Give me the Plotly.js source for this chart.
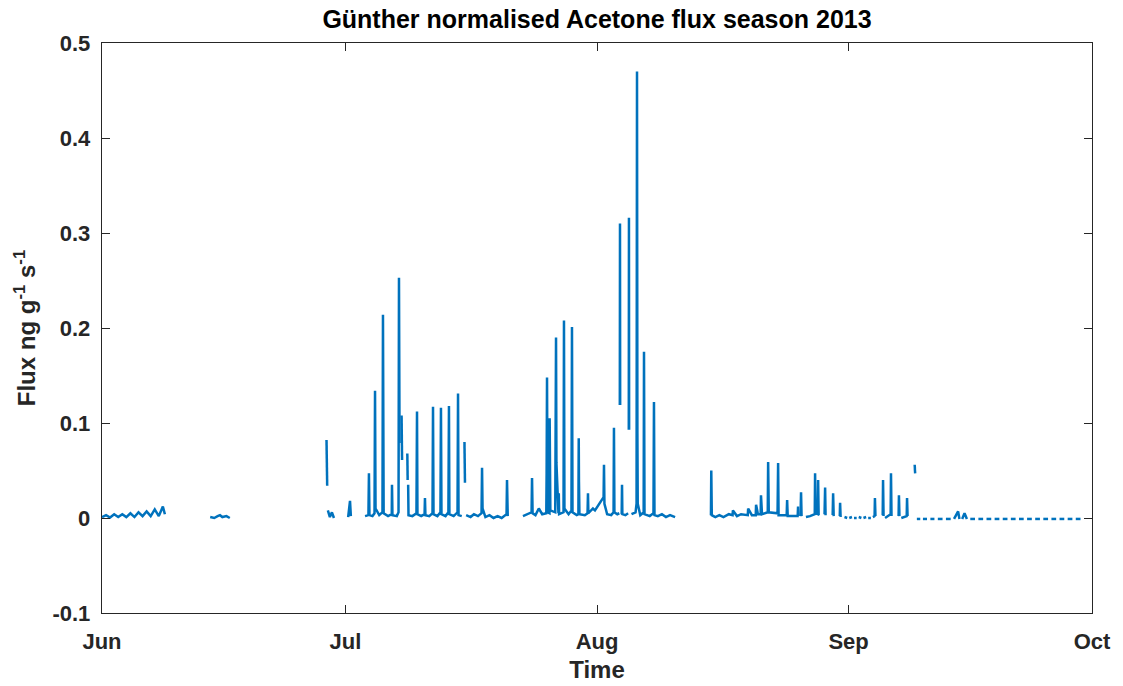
<!DOCTYPE html>
<html>
<head>
<meta charset="utf-8">
<script src="https://cdn.plot.ly/plotly-3.0.1.min.js"></script>
<style>
  html, body { margin: 0; padding: 0; background: #fff; }
  #chart { width: 1123px; height: 686px; }
</style>
</head>
<body>
<div id="chart"></div>
<script>
// Günther-normalised acetone flux, 2013 field season (ng g^-1 s^-1).
// null entries mark gaps in the record (no measurement).

const juneTime = [
  '2013-06-01 00:00','2013-06-01 12:00','2013-06-02 00:00','2013-06-02 12:00',
  '2013-06-03 00:00','2013-06-03 12:00','2013-06-04 00:00','2013-06-04 12:00',
  '2013-06-05 00:00','2013-06-05 12:00','2013-06-06 00:00','2013-06-06 12:00',
  '2013-06-07 00:00','2013-06-07 12:00','2013-06-08 00:00','2013-06-08 12:00',
  '2013-06-08 18:00','2013-06-09 00:00',
  '2013-06-14 08:00','2013-06-14 20:00','2013-06-15 06:00','2013-06-15 13:00',
  '2013-06-15 20:00','2013-06-16 08:00','2013-06-16 18:00','2013-06-17 00:00',
  '2013-06-28 16:00','2013-06-28 18:00','2013-06-28 19:00',
  '2013-06-28 20:00','2013-06-29 02:00','2013-06-29 08:00','2013-06-29 14:00','2013-06-29 16:00',
  '2013-07-01 08:00','2013-07-01 13:30','2013-07-01 16:00','2013-07-01 18:00'
];
const juneFlux = [
  0.001, 0.003, 0.0005, 0.004,
  0.001, 0.004, 0.001, 0.005,
  0.001, 0.006, 0.002, 0.007,
  0.002, 0.009, 0.002, 0.012,
  0.004, null,
  0.001, 0.000, 0.002, 0.003,
  0.001, 0.002, 0.000, null,
  0.082, 0.034, null,
  0.008, 0.001, 0.006, 0.000, null,
  0.001, 0.018, 0.002, null
];

const julyTime = [
  '2013-07-03 10:00','2013-07-03 20:00','2013-07-03 21:30','2013-07-03 23:00',
  '2013-07-04 08:00','2013-07-04 14:00','2013-07-04 15:30','2013-07-04 17:00',
  '2013-07-05 04:00','2013-07-05 13:30','2013-07-05 15:00','2013-07-05 15:45','2013-07-05 17:00',
  '2013-07-06 06:00','2013-07-06 17:00','2013-07-06 17:40','2013-07-06 19:00',
  '2013-07-07 08:00','2013-07-07 13:00','2013-07-07 14:20','2013-07-07 16:00','2013-07-07 18:00',
  '2013-07-07 22:00','2013-07-07 23:30','2013-07-08 00:30',
  '2013-07-08 15:00','2013-07-08 16:00','2013-07-08 17:00',
  '2013-07-08 17:30','2013-07-08 18:30',
  '2013-07-09 06:00','2013-07-09 18:00','2013-07-09 19:40','2013-07-09 21:00',
  '2013-07-10 08:00','2013-07-10 18:00','2013-07-10 19:10','2013-07-10 20:30',
  '2013-07-11 08:00','2013-07-11 17:30','2013-07-11 19:00','2013-07-11 20:30',
  '2013-07-12 08:00','2013-07-12 17:00','2013-07-12 18:30','2013-07-12 20:00',
  '2013-07-13 08:00','2013-07-13 16:30','2013-07-13 18:10','2013-07-13 19:30',
  '2013-07-14 08:00','2013-07-14 19:30','2013-07-14 21:00','2013-07-14 22:30',
  '2013-07-15 08:00','2013-07-15 15:00','2013-07-15 16:00','2013-07-15 17:30','2013-07-15 19:00',
  '2013-07-15 21:00','2013-07-16 10:00','2013-07-16 20:00',
  '2013-07-17 08:00','2013-07-17 18:30','2013-07-17 20:00','2013-07-17 21:30',
  '2013-07-18 06:00','2013-07-18 18:00','2013-07-19 06:00','2013-07-19 18:00',
  '2013-07-20 06:00','2013-07-20 20:30','2013-07-20 21:50','2013-07-21 00:00','2013-07-21 04:00'
];
const julyFlux = [
  0.002, 0.003, 0.047, 0.003,
  0.002, 0.005, 0.134, 0.010,
  0.003, 0.006, 0.214, 0.130, 0.005,
  0.002, 0.004, 0.035, 0.003,
  0.002, 0.006, 0.253, 0.079, null,
  0.108, 0.061, null,
  0.068, 0.040, null,
  0.035, 0.003,
  0.002, 0.005, 0.112, 0.004,
  0.002, 0.004, 0.021, 0.003,
  0.002, 0.005, 0.117, 0.004,
  0.002, 0.006, 0.116, 0.004,
  0.002, 0.006, 0.118, 0.004,
  0.002, 0.006, 0.131, 0.003,
  0.002, null, 0.080, 0.037, null,
  0.003, 0.001, 0.004,
  0.002, 0.005, 0.053, 0.010,
  0.001, 0.003, 0.000, 0.002,
  0.000, 0.004, 0.040, 0.002, null
];

const augTime = [
  '2013-07-22 21:00','2013-07-23 12:00','2013-07-23 22:30','2013-07-23 23:50','2013-07-24 01:30',
  '2013-07-24 10:00','2013-07-24 20:00','2013-07-25 06:00','2013-07-25 18:00',
  '2013-07-25 19:00','2013-07-25 20:10','2013-07-25 21:00','2013-07-25 22:00',
  '2013-07-26 03:30','2013-07-26 04:00','2013-07-26 05:00','2013-07-26 06:00',
  '2013-07-26 20:30','2013-07-26 21:30','2013-07-26 22:50','2013-07-27 00:00',
  '2013-07-27 06:00','2013-07-27 07:00','2013-07-27 08:00',
  '2013-07-27 21:00','2013-07-27 22:20','2013-07-27 23:40',
  '2013-07-28 12:00','2013-07-28 20:30','2013-07-28 22:00','2013-07-28 23:30',
  '2013-07-29 12:00','2013-07-29 17:00','2013-07-29 18:00','2013-07-29 18:40','2013-07-29 20:00',
  '2013-07-30 12:00','2013-07-30 20:00','2013-07-30 21:20','2013-07-30 22:30',
  '2013-07-31 12:00','2013-07-31 18:00','2013-08-01 06:00','2013-08-01 14:00',
  '2013-08-01 19:30','2013-08-01 20:40','2013-08-01 22:00','2013-08-02 06:00',
  '2013-08-02 18:00','2013-08-03 01:00','2013-08-03 02:10','2013-08-03 03:30',
  '2013-08-03 12:00','2013-08-03 18:00','2013-08-03 19:00',
  '2013-08-03 19:30','2013-08-03 20:00','2013-08-03 20:30','2013-08-03 21:30',
  '2013-08-04 01:00','2013-08-04 02:00','2013-08-04 03:00','2013-08-04 12:00','2013-08-04 20:00',
  '2013-08-04 21:00','2013-08-04 22:00','2013-08-04 22:30','2013-08-04 23:00','2013-08-05 00:00',
  '2013-08-05 06:00','2013-08-05 18:00','2013-08-05 21:00','2013-08-05 22:20','2013-08-05 23:30','2013-08-06 00:30',
  '2013-08-06 08:00','2013-08-06 18:00','2013-08-06 19:00','2013-08-06 20:30',
  '2013-08-07 12:00','2013-08-07 23:00','2013-08-08 00:30','2013-08-08 02:00',
  '2013-08-08 12:00','2013-08-09 00:00','2013-08-09 12:00','2013-08-10 00:00',
  '2013-08-10 15:00','2013-08-10 16:00'
];
const augFlux = [
  0.002, 0.004, 0.006, 0.042, 0.005,
  0.003, 0.010, 0.004, 0.005,
  0.047, 0.148, 0.075, 0.006,
  0.005, 0.105, 0.060, 0.008,
  0.006, 0.058, 0.190, 0.058,
  0.005, 0.026, 0.004,
  0.006, 0.208, 0.010,
  0.004, 0.008, 0.201, 0.006,
  0.003, 0.004, 0.084, 0.038, 0.004,
  0.003, 0.005, 0.026, 0.005,
  0.010, 0.008, 0.015, 0.020,
  0.022, 0.056, 0.015, 0.004,
  0.003, 0.006, 0.095, 0.006,
  0.004, 0.005, null,
  0.119, 0.310, 0.119, null,
  0.004, 0.035, 0.004, 0.003, 0.005,
  null, 0.093, 0.316, 0.093, null,
  0.004, 0.006, 0.015, 0.470, 0.089, 0.015,
  0.003, 0.006, 0.175, 0.004,
  0.002, 0.005, 0.122, 0.003,
  0.002, 0.004, 0.001, 0.003,
  0.001, null
];

const sepTime = [
  '2013-08-15 01:00','2013-08-15 02:00','2013-08-15 03:30','2013-08-15 14:00',
  '2013-08-16 02:00','2013-08-16 14:00','2013-08-17 06:00','2013-08-17 17:00','2013-08-17 18:00',
  '2013-08-18 06:00','2013-08-18 18:00','2013-08-19 14:00','2013-08-19 15:00','2013-08-20 02:00',
  '2013-08-20 13:30','2013-08-20 14:30','2013-08-20 20:00','2013-08-21 04:00','2013-08-21 05:00','2013-08-21 08:00',
  '2013-08-22 01:00','2013-08-22 02:10','2013-08-22 04:00',
  '2013-08-23 06:00','2013-08-23 07:40','2013-08-23 09:00',
  '2013-08-24 09:00','2013-08-24 10:20','2013-08-24 12:00',
  '2013-08-25 17:30','2013-08-25 18:40','2013-08-25 20:00','2013-08-25 22:00',
  '2013-08-26 02:00','2013-08-26 03:30','2013-08-26 05:00','2013-08-26 08:00',
  '2013-08-26 18:00','2013-08-27 06:00','2013-08-27 20:00','2013-08-27 21:00','2013-08-27 22:30',
  '2013-08-28 05:00','2013-08-28 06:00','2013-08-28 07:30','2013-08-28 18:00',
  '2013-08-29 01:00','2013-08-29 02:40','2013-08-29 04:00','2013-08-29 12:00',
  '2013-08-30 01:00','2013-08-30 02:20','2013-08-30 04:00','2013-08-30 12:00',
  '2013-08-30 22:00','2013-08-30 23:00','2013-08-31 00:30','2013-08-31 08:00',
  '2013-08-31 12:00','2013-08-31 20:00','2013-08-31 22:00',
  '2013-09-01 02:00','2013-09-01 10:00','2013-09-01 12:00',
  '2013-09-01 16:00','2013-09-02 00:00','2013-09-02 03:00',
  '2013-09-02 06:00','2013-09-02 14:00','2013-09-02 16:00',
  '2013-09-02 20:00','2013-09-03 04:00','2013-09-03 07:00',
  '2013-09-03 10:00','2013-09-03 18:00','2013-09-03 21:00',
  '2013-09-04 00:00','2013-09-04 05:00','2013-09-04 06:00','2013-09-04 07:30',
  '2013-09-04 18:00','2013-09-05 05:00','2013-09-05 06:00','2013-09-05 07:30','2013-09-05 09:00',
  '2013-09-05 12:00','2013-09-05 20:00','2013-09-06 04:30','2013-09-06 05:30','2013-09-06 07:00',
  '2013-09-06 18:00','2013-09-07 04:00','2013-09-07 05:00','2013-09-07 06:30','2013-09-07 08:00',
  '2013-09-07 12:00','2013-09-08 04:00','2013-09-08 05:00','2013-09-08 06:30',
  '2013-09-08 12:00','2013-09-08 20:00','2013-09-08 23:00',
  '2013-09-09 03:30','2013-09-09 05:00','2013-09-09 06:00',
  '2013-09-09 10:00','2013-09-09 20:00','2013-09-09 22:00',
  '2013-09-10 04:00','2013-09-10 16:00','2013-09-10 20:00',
  '2013-09-11 02:00','2013-09-11 14:00','2013-09-11 18:00',
  '2013-09-12 00:00','2013-09-12 14:00','2013-09-12 18:00',
  '2013-09-13 00:00','2013-09-13 14:00','2013-09-13 18:00',
  '2013-09-14 00:00','2013-09-14 12:00','2013-09-14 16:00','2013-09-14 18:00',
  '2013-09-15 00:00','2013-09-15 07:00','2013-09-15 14:00','2013-09-15 18:00',
  '2013-09-16 00:00','2013-09-16 14:00','2013-09-16 18:00',
  '2013-09-17 00:00','2013-09-17 14:00','2013-09-17 18:00',
  '2013-09-18 00:00','2013-09-18 14:00','2013-09-18 18:00',
  '2013-09-19 00:00','2013-09-19 14:00','2013-09-19 18:00',
  '2013-09-20 00:00','2013-09-20 14:00','2013-09-20 18:00',
  '2013-09-21 00:00','2013-09-21 14:00','2013-09-21 18:00',
  '2013-09-22 00:00','2013-09-22 14:00','2013-09-22 18:00',
  '2013-09-23 00:00','2013-09-23 14:00','2013-09-23 18:00',
  '2013-09-24 00:00','2013-09-24 14:00','2013-09-24 18:00',
  '2013-09-25 00:00','2013-09-25 14:00','2013-09-25 18:00',
  '2013-09-26 00:00','2013-09-26 14:00','2013-09-26 18:00',
  '2013-09-27 00:00','2013-09-27 14:00','2013-09-27 18:00',
  '2013-09-28 00:00','2013-09-28 14:00','2013-09-28 18:00',
  '2013-09-29 00:00','2013-09-29 14:00','2013-09-29 18:00',
  '2013-09-30 00:00','2013-09-30 03:00'
];
const sepFlux = [
  0.003, 0.050, 0.003, 0.001,
  0.003, 0.001, 0.004, 0.003, 0.008,
  0.002, 0.004, 0.003, 0.010, 0.003,
  0.003, 0.014, 0.004, 0.004, 0.024, 0.004,
  0.006, 0.059, 0.006,
  0.005, 0.058, 0.003,
  0.003, 0.019, 0.002,
  0.002, 0.012, 0.002, null,
  0.002, 0.027, 0.002, null,
  0.001, 0.002, 0.004, 0.047, 0.005,
  0.004, 0.040, 0.003, null,
  0.004, 0.032, 0.003, null,
  0.003, 0.026, 0.002, null,
  0.002, 0.016, 0.001, null,
  0.001, 0.000, null,
  0.000, 0.001, null,
  0.000, 0.000, null,
  0.001, 0.000, null,
  0.000, 0.001, null,
  0.000, 0.000, null,
  0.001, 0.002, 0.021, 0.002,
  null, 0.003, 0.040, 0.002, null,
  0.000, 0.002, 0.004, 0.047, 0.002,
  null, 0.002, 0.024, 0.002, null,
  0.000, 0.002, 0.021, 0.002,
  null, 0.008, null,
  0.056, 0.047, null,
  -0.001, -0.001, null,
  -0.001, -0.001, null,
  -0.001, -0.001, null,
  -0.001, -0.001, null,
  -0.001, -0.001, null,
  -0.001, 0.007, -0.001, null,
  -0.001, 0.005, -0.001, null,
  -0.001, -0.001, null,
  -0.001, -0.001, null,
  -0.001, -0.001, null,
  -0.001, -0.001, null,
  -0.001, -0.001, null,
  -0.001, -0.001, null,
  -0.001, -0.001, null,
  -0.001, -0.001, null,
  -0.001, -0.001, null,
  -0.001, -0.001, null,
  -0.001, -0.001, null,
  -0.001, -0.001, null,
  -0.001, -0.001, null,
  -0.001, -0.001
];

const monthTicks = ['2013-06-01', '2013-07-01', '2013-08-01', '2013-09-01', '2013-10-01'];
const monthLabels = ['Jun', 'Jul', 'Aug', 'Sep', 'Oct'];
const fluxTicks = [-0.1, 0, 0.1, 0.2, 0.3, 0.4, 0.5];
const fluxLabels = ['-0.1', '0', '0.1', '0.2', '0.3', '0.4', '0.5'];

const time = [].concat(juneTime, julyTime, augTime, sepTime);
const flux = [].concat(juneFlux, julyFlux, augFlux, sepFlux);

const ink = '#262626';
const fontFamily = 'Liberation Sans, Arial, Helvetica, sans-serif';

const trace = {
  x: time,
  y: flux,
  type: 'scatter',
  mode: 'lines',
  connectgaps: false,
  line: { color: '#0072BD', width: 2.5 },
  hoverinfo: 'x+y'
};

const axisCommon = {
  showgrid: false,
  zeroline: false,
  showline: true,
  linecolor: ink,
  linewidth: 1.3,
  mirror: 'allticks',
  ticks: 'inside',
  ticklen: 8,
  tickwidth: 1,
  tickcolor: ink,
  tickfont: { family: fontFamily, size: 22, color: ink, weight: 700 }
};

const layout = {
  width: 1123,
  height: 686,
  margin: { l: 102, r: 31, t: 43, b: 73 },
  paper_bgcolor: '#ffffff',
  plot_bgcolor: '#ffffff',
  showlegend: false,
  font: { family: fontFamily, color: ink },
  title: {
    text: 'Günther normalised Acetone flux season 2013',
    font: { family: fontFamily, size: 25, color: '#000000', weight: 700 },
    x: 0.5, xref: 'paper', xanchor: 'center',
    y: 1 - 19 / 686, yref: 'container', yanchor: 'middle'
  },
  xaxis: Object.assign({}, axisCommon, {
    type: 'date',
    range: ['2013-06-01', '2013-10-01'],
    tickmode: 'array',
    tickvals: monthTicks,
    ticktext: monthLabels,
    ticklabelstandoff: 8,
    title: { text: 'Time', font: { family: fontFamily, size: 24, color: ink, weight: 700 }, standoff: 8 }
  }),
  yaxis: Object.assign({}, axisCommon, {
    range: [-0.1, 0.5],
    tickmode: 'array',
    tickvals: fluxTicks,
    ticktext: fluxLabels,
    ticklabelstandoff: 6,
    title: { text: 'Flux ng g<sup>-1</sup> s<sup>-1</sup>', font: { family: fontFamily, size: 24, color: ink, weight: 700 }, standoff: 10 }
  })
};

Plotly.newPlot('chart', [trace], layout, { displayModeBar: false, staticPlot: true });
</script>
</body>
</html>
